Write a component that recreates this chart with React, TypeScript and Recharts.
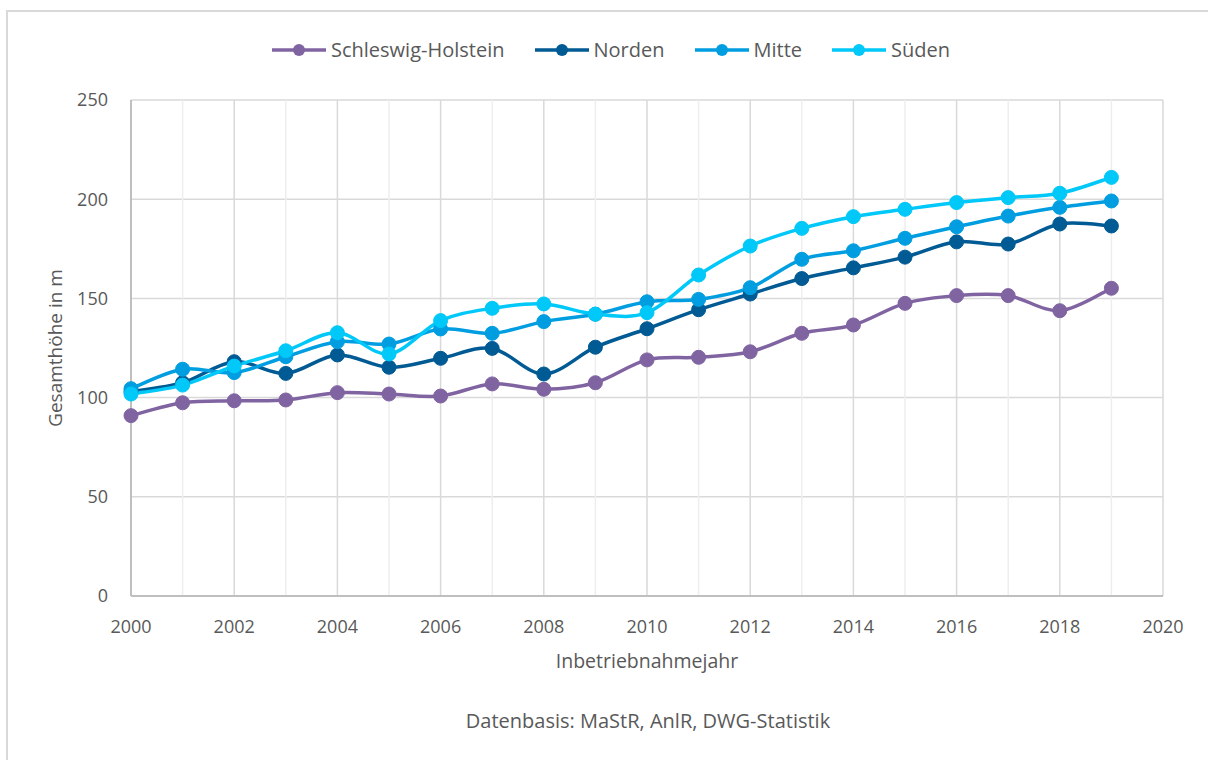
import { LineChart, Line, XAxis, YAxis, CartesianGrid, ReferenceLine } from 'recharts'

const years = [
  2000, 2001, 2002, 2003, 2004, 2005, 2006, 2007, 2008, 2009,
  2010, 2011, 2012, 2013, 2014, 2015, 2016, 2017, 2018, 2019,
]
const schleswigHolstein = [
  90.9, 97.4, 98.4, 98.8, 102.5, 101.8, 100.8, 106.9, 104.2, 107.5,
  119, 120.3, 123.1, 132.4, 136.6, 147.5, 151.4, 151.4, 143.8, 155.1,
]
const norden = [
  103, 107.5, 118.1, 112.2, 121.5, 115.3, 119.8, 124.8, 111.9, 125.4,
  134.7, 144.3, 152.2, 160, 165.4, 170.8, 178.5, 177.4, 187.5, 186.5,
]
const mitte = [
  104.5, 114.3, 112.6, 120.6, 128.2, 127, 134.6, 132.4, 138.3, 142,
  148.3, 149.5, 155.4, 169.7, 174, 180.3, 186.1, 191.5, 195.9, 199.1,
]
const sueden = [
  101.8, 106.3, 115.9, 123.6, 132.7, 122, 138.8, 145, 147.2, 142.1,
  142.8, 161.8, 176.4, 185.3, 191.2, 194.9, 198.3, 200.8, 203, 211,
]

const xTicks = [2000, 2002, 2004, 2006, 2008, 2010, 2012, 2014, 2016, 2018, 2020]
const minorYears = [2001, 2003, 2005, 2007, 2009, 2011, 2013, 2015, 2017, 2019]
const yTicks = [0, 50, 100, 150, 200, 250]

const series = [
  { key: 'sh', name: 'Schleswig-Holstein', color: '#8064a2' },
  { key: 'norden', name: 'Norden', color: '#005a94' },
  { key: 'mitte', name: 'Mitte', color: '#009ee0' },
  { key: 'sueden', name: 'Süden', color: '#00c8f8' },
]

const data = years.map((year, i) => ({
  year,
  sh: schleswigHolstein[i],
  norden: norden[i],
  mitte: mitte[i],
  sueden: sueden[i],
}))

const FONT = '"Open Sans", "Noto Sans", sans-serif'
const TEXT = '#595959'

// Office-style smoothing: cubic Bezier segments with control points at 1/6 of the
// neighbour spread (uniform Catmull-Rom), so the curve may overshoot slightly.
function officeSmooth(context: any) {
  let pts: [number, number][] = []
  return {
    areaStart() {},
    areaEnd() {},
    lineStart() {
      pts = []
    },
    lineEnd() {
      if (!pts.length) return
      context.moveTo(pts[0][0], pts[0][1])
      for (let i = 0; i < pts.length - 1; i++) {
        const p0 = pts[Math.max(i - 1, 0)]
        const p1 = pts[i]
        const p2 = pts[i + 1]
        const p3 = pts[Math.min(i + 2, pts.length - 1)]
        context.bezierCurveTo(
          p1[0] + (p2[0] - p0[0]) / 6,
          p1[1] + (p2[1] - p0[1]) / 6,
          p2[0] - (p3[0] - p1[0]) / 6,
          p2[1] - (p3[1] - p1[1]) / 6,
          p2[0],
          p2[1],
        )
      }
    },
    point(x: number, y: number) {
      pts.push([x, y])
    },
  }
}

function LegendRow() {
  return (
    <div
      style={{
        position: 'absolute',
        left: 272,
        top: 36,
        display: 'flex',
        alignItems: 'center',
        fontFamily: FONT,
        fontSize: 20,
        color: TEXT,
        whiteSpace: 'nowrap',
      }}
    >
      {series.map((s) => (
        <div key={s.key} style={{ display: 'flex', alignItems: 'center', marginRight: 30 }}>
          <svg width={54} height={14} style={{ marginRight: 5 }}>
            <line x1={0} y1={7} x2={54} y2={7} stroke={s.color} strokeWidth={3.5} />
            <circle cx={27} cy={7} r={6} fill={s.color} />
          </svg>
          <span>{s.name}</span>
        </div>
      ))}
    </div>
  )
}

export default function App() {
  return (
    <div style={{ position: 'fixed', left: 0, top: 0, width: 1208, height: 760, background: '#fff', overflow: 'hidden' }}>
      <div
        style={{
          position: 'absolute',
          left: 6,
          top: 10,
          width: 1220,
          height: 780,
          border: '2px solid #d9d9d9',
          boxSizing: 'border-box',
        }}
      />
      <LegendRow />
      <div style={{ position: 'absolute', left: 0, top: 0 }}>
        <LineChart width={1208} height={700} data={data} margin={{ top: 100, right: 45, bottom: 28, left: 0 }}>
          <CartesianGrid stroke="#d9d9d9" strokeWidth={1.5} />
          {minorYears.map((y) => (
            <ReferenceLine key={y} x={y} stroke="#eeeeee" strokeWidth={1.5} />
          ))}
          <XAxis
            dataKey="year"
            type="number"
            domain={[2000, 2020]}
            ticks={xTicks}
            tickLine={false}
            tickSize={0}
            tickMargin={24}
            axisLine={{ stroke: '#bfbfbf', strokeWidth: 2 }}
            tick={{ fill: TEXT, fontSize: 18, fontFamily: FONT }}
            height={76}
            label={{ value: 'Inbetriebnahmejahr', position: 'insideBottom', offset: 4, fill: TEXT, fontSize: 19.5, fontFamily: FONT }}
          />
          <YAxis
            type="number"
            domain={[0, 250]}
            ticks={yTicks}
            tickLine={false}
            tickSize={0}
            tickMargin={23}
            axisLine={{ stroke: '#bfbfbf', strokeWidth: 2 }}
            tick={{ fill: TEXT, fontSize: 18, fontFamily: FONT }}
            width={131}
            label={{
              value: 'Gesamthöhe in m',
              angle: -90,
              position: 'insideLeft',
              offset: 55,
              fill: TEXT,
              fontSize: 19,
              fontFamily: FONT,
              style: { textAnchor: 'middle' },
            }}
          />
          {series.map((s) => (
            <Line
              key={s.key}
              dataKey={s.key}
              name={s.name}
              type={officeSmooth as any}
              stroke={s.color}
              strokeWidth={3.5}
              dot={{ r: 7, fill: s.color, stroke: s.color, strokeWidth: 1 }}
              activeDot={false}
              isAnimationActive={false}
            />
          ))}
        </LineChart>
      </div>
      <div
        style={{
          position: 'absolute',
          left: 0,
          width: 1296,
          top: 707,
          textAlign: 'center',
          fontFamily: FONT,
          fontSize: 20,
          color: TEXT,
        }}
      >
        Datenbasis: MaStR, AnlR, DWG-Statistik
      </div>
    </div>
  )
}
